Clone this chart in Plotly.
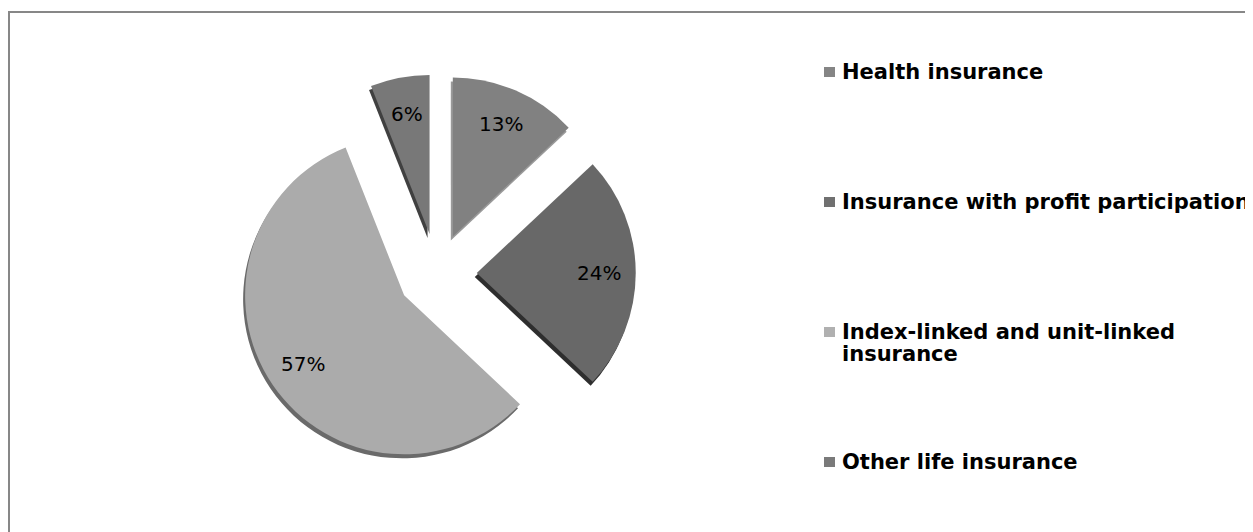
import math
import plotly.graph_objects as go

# page body has an 8px margin: figure drawn at (8, 8) in the window
OFF = 8
W, H = 1253 - OFF, 532 - OFF

labels = ["Health insurance", "Insurance with profit participation",
          "Index-linked and unit-linked insurance", "Other life insurance"]
legend_lines = [["Health insurance"], ["Insurance with profit participation"],
                ["Index-linked and unit-linked", "insurance"], ["Other life insurance"]]
values = [13, 24, 57, 6]
slice_colors = ["#818181", "#686868", "#ababab", "#787878"]
edge_colors = ["#9a9a9a", "#2e2e2e", "#6a6a6a", "#404040"]
swatch_colors = ["#858585", "#707070", "#b0b0b0", "#7a7a7a"]


def px(x):
    return (x - OFF) / W


def py(y):
    return 1 - (y - OFF) / H


# pie geometry in window pixels
cx, cy, r, pull = 437, 273, 159, 0.25
half = r * (1 + pull)
dx, dy = -2, 4  # depth offset of the 3D edge

fig = go.Figure()
# 3D edge (shadow copy of the same pie)
fig.add_trace(go.Pie(
    labels=labels, values=values, sort=False, direction="clockwise", rotation=0,
    marker=dict(colors=edge_colors, line=dict(width=0)),
    pull=[pull] * len(values), textposition="none",
    domain=dict(x=[px(cx + dx - half), px(cx + dx + half)], y=[py(cy + dy + half), py(cy + dy - half)]),
    showlegend=False, hoverinfo="skip",
))
fig.add_trace(go.Pie(
    labels=labels, values=values, sort=False, direction="clockwise", rotation=0,
    marker=dict(colors=slice_colors, line=dict(width=0)),
    pull=[pull] * len(values), textposition="none",
    domain=dict(x=[px(cx - half), px(cx + half)], y=[py(cy + half), py(cy - half)]),
    showlegend=False, hoverinfo="label+percent",
))

annotations = []
total = sum(values)
cum = 0
for v in values:
    mid = (cum + v / 2) / total * 2 * math.pi
    cum += v
    dist = r * (pull + 0.77)
    lx = cx + dist * math.sin(mid)
    ly = cy - dist * math.cos(mid)
    annotations.append(dict(xref="paper", yref="paper", x=px(lx), y=py(ly), xanchor="center",
                            yanchor="middle", text=f"{round(100 * v / total)}%", showarrow=False,
                            font=dict(family="DejaVu Sans", size=20, color="black")))

shapes = [
    dict(type="line", xref="paper", yref="paper", x0=px(9), x1=px(1253), y0=py(12), y1=py(12),
         line=dict(color="#878787", width=2)),
    dict(type="line", xref="paper", yref="paper", x0=px(9), x1=px(9), y0=py(11), y1=py(532),
         line=dict(color="#878787", width=2)),
]
row0, gap, lh = 72, 130, 22
for i, lines in enumerate(legend_lines):
    yc = row0 + i * gap
    shapes.append(dict(type="rect", xref="paper", yref="paper", x0=px(824), x1=px(835),
                       y0=py(yc + 5), y1=py(yc - 5), fillcolor=swatch_colors[i], line=dict(width=0)))
    for j, t in enumerate(lines):
        annotations.append(dict(xref="paper", yref="paper", x=px(840), y=py(yc + j * lh),
                                xanchor="left", yanchor="middle", text=t, showarrow=False,
                                font=dict(family="DejaVu Sans", size=21, color="black", weight="bold")))

fig.update_layout(
    width=W, height=H, margin=dict(l=0, r=0, t=0, b=0),
    paper_bgcolor="white", plot_bgcolor="white",
    shapes=shapes, annotations=annotations,
)
fig.write_html("out.html")
